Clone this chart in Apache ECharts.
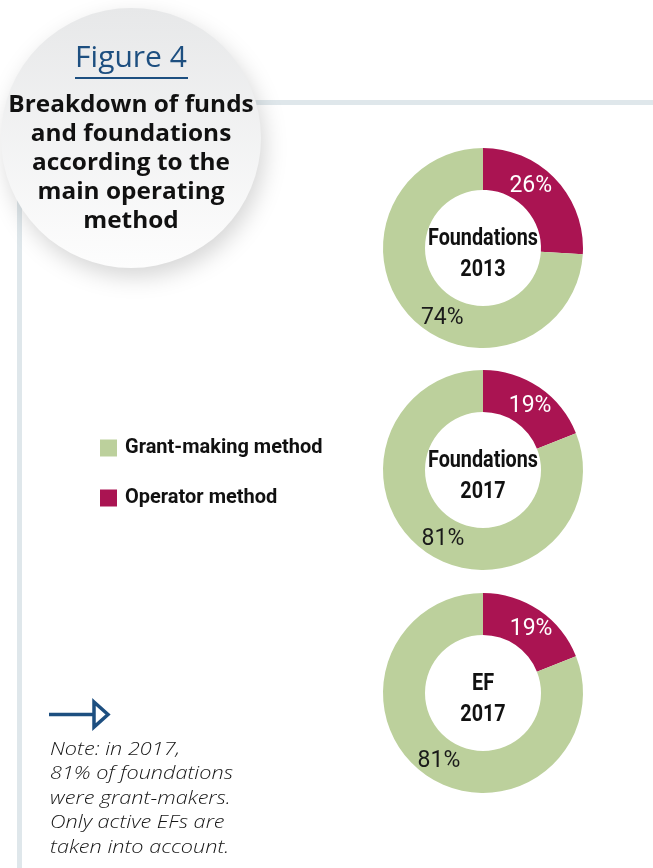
<!DOCTYPE html>
<html>
<head>
<meta charset="utf-8">
<script src="https://cdn.jsdelivr.net/npm/echarts@6/dist/echarts.min.js"></script>
<style>
  html, body { margin: 0; padding: 0; background: #ffffff; }
  #chart { width: 653px; height: 868px; }
</style>
</head>
<body>
<div id="chart"></div>
<script>
// Share of each operating method, per population
const methods = ['Operator method', 'Grant-making method'];
const panels = ['Foundations\n2013', 'Foundations\n2017', 'EF\n2017'];
const operatorShare = [26, 19, 19];
const grantShare = [74, 81, 81];
const legendOrder = ['Grant-making method', 'Operator method'];
const figureLabel = 'Figure 4';
const titleText = 'Breakdown of funds\nand foundations\naccording to the\nmain operating\nmethod';
const noteText = 'Note: in 2017,\n81% of foundations\nwere grant-makers.\nOnly active EFs are\ntaken into account.';

const GREEN = '#bcd09c';
const CRIMSON = '#aa1452';
const BLUE = '#1d4f80';
const RULE = '#dfe7eb';
const NARROW = "Roboto,'Liberation Sans',sans-serif";
const ROUND = "'Open Sans',Lato,sans-serif";

const pieCenters = [[483, 248], [483, 470], [483, 693]];
// small nudges for the percentage labels of each donut: [operator, grant-making]
const labelNudge = [[[-12, -6], [19, 14]], [[1, 4], [6, 1]], [[2, 4], [2, 0]]];

const chart = echarts.init(document.getElementById('chart'), null, { renderer: 'canvas' });

const series = panels.map((p, i) => ({
  type: 'pie',
  center: pieCenters[i],
  radius: [58, 100],
  startAngle: 90,
  clockwise: true,
  silent: true,
  avoidLabelOverlap: false,
  emphasis: { disabled: true },
  label: {
    show: true,
    position: 'inside',
    formatter: '{c}%',
    fontFamily: NARROW,
    fontSize: 23,
    fontWeight: 'normal'
  },
  labelLine: { show: false },
  labelLayout: (params) => {
    const n = labelNudge[i][params.dataIndex];
    return { dx: n[0], dy: n[1] };
  },
  data: [
    { name: methods[0], value: operatorShare[i], itemStyle: { color: CRIMSON }, label: { color: '#ffffff' } },
    { name: methods[1], value: grantShare[i], itemStyle: { color: GREEN }, label: { color: '#1a1a1a' } }
  ]
}));

const centerTexts = panels.map((p, i) => ({
  type: 'text',
  x: pieCenters[i][0],
  y: pieCenters[i][1] + 7,
  z: 10,
  scaleX: 0.86,
  style: {
    text: p,
    align: 'center',
    verticalAlign: 'middle',
    fontFamily: NARROW,
    fontWeight: 'bold',
    fontSize: 23,
    lineHeight: 31,
    fill: '#111111'
  }
}));

chart.setOption({
  backgroundColor: '#ffffff',
  animation: false,
  legend: {
    data: legendOrder,
    orient: 'vertical',
    left: 100,
    top: 438,
    padding: 0,
    itemWidth: 17,
    itemHeight: 17,
    itemGap: 30,
    icon: 'rect',
    selectedMode: false,
    textStyle: {
      fontFamily: NARROW,
      fontWeight: 'bold',
      fontSize: 20,
      color: '#111111',
      padding: [0, 0, 0, 3]
    }
  },
  series: series,
  graphic: [
    // frame rules
    { type: 'rect', shape: { x: 17, y: 100, width: 5, height: 768 }, style: { fill: RULE }, z: 0 },
    { type: 'rect', shape: { x: 17, y: 100, width: 636, height: 5 }, style: { fill: RULE }, z: 0 },
    // title disc
    {
      type: 'circle',
      shape: { cx: 131, cy: 138, r: 130 },
      z: 1,
      style: {
        fill: new echarts.graphic.LinearGradient(0, 0, 0, 1, [
          { offset: 0, color: '#e7e8e9' },
          { offset: 1, color: '#fdfdfd' }
        ]),
        shadowBlur: 22,
        shadowColor: 'rgba(0,0,0,0.16)',
        shadowOffsetX: 4,
        shadowOffsetY: 9
      }
    },
    {
      type: 'text', x: 131, y: 58, z: 2,
      style: { text: figureLabel, align: 'center', verticalAlign: 'middle', fontFamily: ROUND, fontSize: 30, fill: BLUE }
    },
    { type: 'rect', shape: { x: 75, y: 77, width: 113, height: 2 }, style: { fill: BLUE }, z: 2 },
    {
      type: 'text', x: 131, y: 90.5, z: 2,
      scaleX: 1.06,
      style: {
        text: titleText, align: 'center', verticalAlign: 'top',
        fontFamily: ROUND, fontWeight: 'bold', fontSize: 23, lineHeight: 29, fill: '#111111'
      }
    },
    // arrow before the note
    { type: 'line', shape: { x1: 49, y1: 714.5, x2: 94, y2: 714.5 }, style: { stroke: BLUE, lineWidth: 3.5 }, z: 2 },
    {
      type: 'polygon', shape: { points: [[94, 702], [108, 714.5], [94, 727]] },
      style: { fill: '#ffffff', stroke: BLUE, lineWidth: 3.5, lineJoin: 'miter' }, z: 2
    },
    {
      type: 'text', x: 50, y: 737, z: 2,
      scaleX: 1.14,
      style: {
        text: noteText, align: 'left', verticalAlign: 'top',
        fontFamily: ROUND, fontStyle: 'italic', fontWeight: 300, fontSize: 19, lineHeight: 24.5, fill: '#151515'
      }
    }
  ].concat(centerTexts)
});
</script>
</body>
</html>
